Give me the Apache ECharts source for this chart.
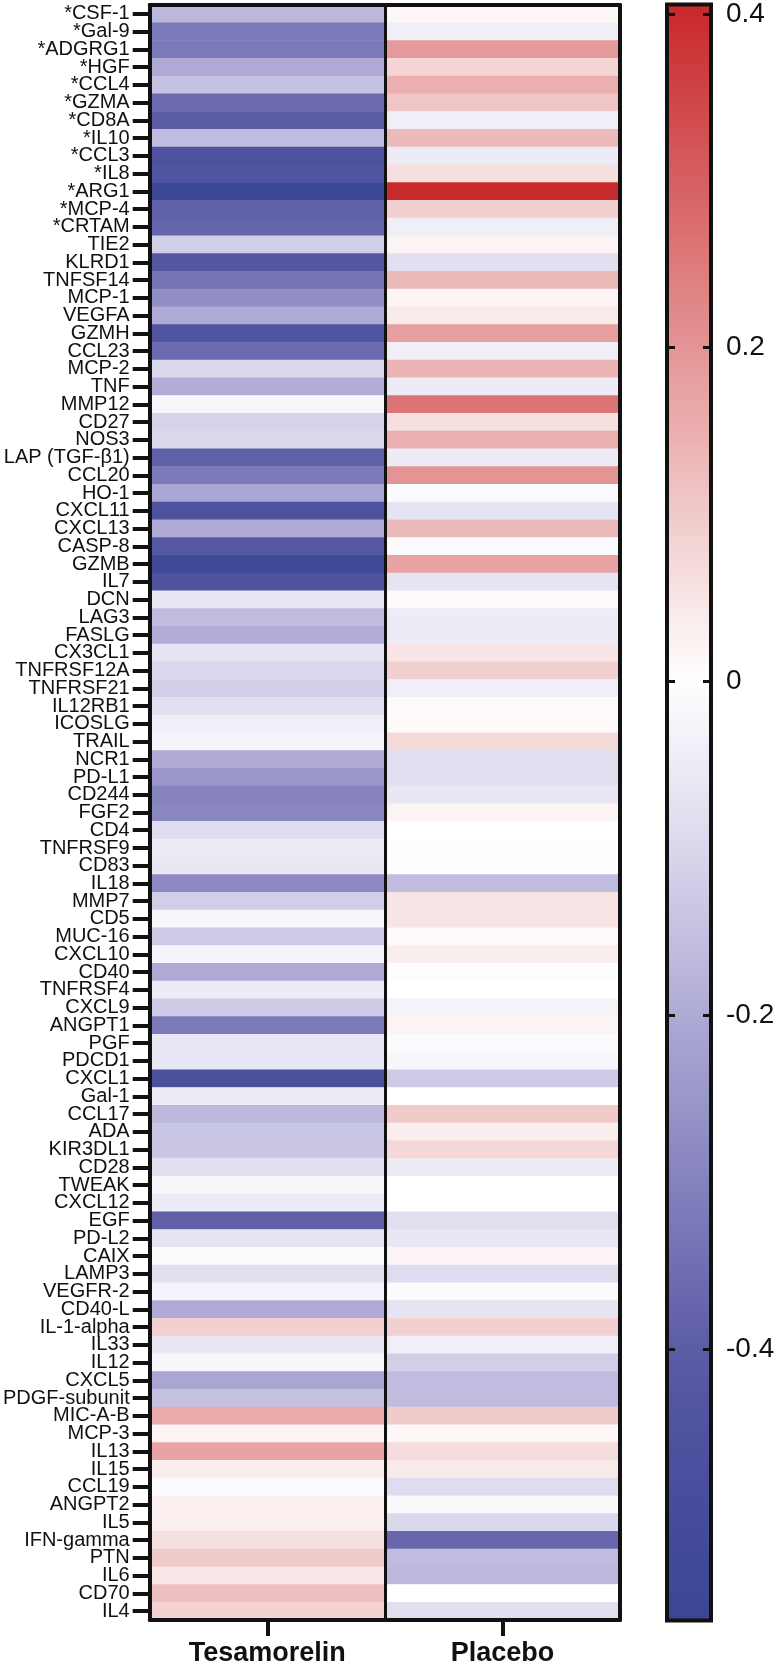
<!DOCTYPE html>
<html><head><meta charset="utf-8">
<script src="https://cdn.jsdelivr.net/npm/echarts@6/dist/echarts.min.js"></script>
<style>html,body{margin:0;padding:0;background:#fff}#c{width:781px;height:1669px}</style>
</head><body><div id="c"></div>
<script>
const categories = ['*CSF-1','*Gal-9','*ADGRG1','*HGF','*CCL4','*GZMA','*CD8A','*IL10','*CCL3','*IL8','*ARG1','*MCP-4','*CRTAM','TIE2','KLRD1','TNFSF14','MCP-1','VEGFA','GZMH','CCL23','MCP-2','TNF','MMP12','CD27','NOS3','LAP (TGF-β1)','CCL20','HO-1','CXCL11','CXCL13','CASP-8','GZMB','IL7','DCN','LAG3','FASLG','CX3CL1','TNFRSF12A','TNFRSF21','IL12RB1','ICOSLG','TRAIL','NCR1','PD-L1','CD244','FGF2','CD4','TNFRSF9','CD83','IL18','MMP7','CD5','MUC-16','CXCL10','CD40','TNFRSF4','CXCL9','ANGPT1','PGF','PDCD1','CXCL1','Gal-1','CCL17','ADA','KIR3DL1','CD28','TWEAK','CXCL12','EGF','PD-L2','CAIX','LAMP3','VEGFR-2','CD40-L','IL-1-alpha','IL33','IL12','CXCL5','PDGF-subunit','MIC-A-B','MCP-3','IL13','IL15','CCL19','ANGPT2','IL5','IFN-gamma','PTN','IL6','CD70','IL4'];
const groups = ['Tesamorelin', 'Placebo'];
const tesamorelin = [
 -0.17,-0.32,-0.32,-0.20,-0.15,-0.36,-0.40,-0.16,-0.45,-0.44,
 -0.55,-0.39,-0.38,-0.12,-0.43,-0.34,-0.27,-0.20,-0.44,-0.36,
 -0.10,-0.19,-0.02,-0.11,-0.10,-0.39,-0.32,-0.21,-0.46,-0.20,
 -0.42,-0.54,-0.45,-0.06,-0.16,-0.19,-0.07,-0.10,-0.12,-0.08,
 -0.04,-0.03,-0.20,-0.25,-0.30,-0.29,-0.09,-0.05,-0.06,-0.28,
 -0.12,-0.02,-0.13,-0.03,-0.20,-0.05,-0.13,-0.32,-0.06,-0.06,
 -0.47,-0.05,-0.17,-0.14,-0.14,-0.08,-0.02,-0.05,-0.39,-0.07,
 -0.01,-0.08,-0.03,-0.20,0.09,-0.06,-0.02,-0.21,-0.15,0.16,
 0.02,0.17,0.035,-0.01,0.03,0.03,0.06,0.10,0.045,0.12,0.085];
const placebo = [
 0.015,-0.04,0.19,0.08,0.15,0.11,-0.04,0.13,-0.05,0.06,
 0.40,0.09,-0.04,0.02,-0.08,0.13,0.02,0.04,0.18,-0.04,
 0.14,-0.05,0.26,0.06,0.15,-0.05,0.20,-0.01,-0.07,0.13,
 -0.01,0.17,-0.07,0.01,-0.05,-0.05,0.05,0.09,-0.04,0.01,
 0.01,0.07,-0.08,-0.08,-0.06,0.02,0.0,0.005,0.005,-0.16,
 0.05,0.05,0.01,0.035,0.005,0.0,-0.03,0.02,-0.01,-0.02,
 -0.13,0.0,0.10,0.035,0.075,-0.05,0.0,0.0,-0.08,-0.06,
 0.02,-0.09,-0.01,-0.07,0.09,-0.04,-0.12,-0.16,-0.16,0.10,
 0.015,0.065,0.04,-0.09,-0.015,-0.10,-0.37,-0.16,-0.17,0.0,-0.08];
const scaleMin = -0.563, scaleMax = 0.405;
const colorbarTickMin = -0.4, colorbarTickMax = 0.4, colorbarStep = 0.2;

// colour scale stops (style)
const stops = [[-0.563,'#3A4694'],[-0.45,'#4F529F'],[-0.4,'#5C5CA6'],[-0.3,'#8582BE'],[-0.2,'#AEAAD5'],[-0.1,'#DAD8EC'],[0,'#FFFFFF'],[0.1,'#F1CACA'],[0.2,'#E49495'],[0.3,'#D65F61'],[0.405,'#C8282A']];
function hex2rgb(h){return [parseInt(h.substr(1,2),16),parseInt(h.substr(3,2),16),parseInt(h.substr(5,2),16)];}
function colorAt(v){
  for (let i=0;i<stops.length-1;i++){
    const a=stops[i], b=stops[i+1];
    if (v<=b[0] || i===stops.length-2){
      const t=Math.max(0,Math.min(1,(v-a[0])/(b[0]-a[0])));
      const ca=hex2rgb(a[1]), cb=hex2rgb(b[1]);
      return 'rgb('+ca.map((c,k)=>Math.round(c+(cb[k]-c)*t)).join(',')+')';
    }
  }
}
const N=240, colors=[];
for(let i=0;i<N;i++){colors.push(colorAt(scaleMin+(scaleMax-scaleMin)*i/(N-1)));}

const data=[];
categories.forEach((c,i)=>{data.push([0,i,tesamorelin[i]]);data.push([1,i,placebo[i]]);});

const FF='"Liberation Sans", Arial, sans-serif';
const ink='#111';
const chart=echarts.init(document.getElementById('c'),null,{renderer:'canvas'});
chart.setOption({
  animation:false,
  textStyle:{fontFamily:FF},
  grid:[
    {left:147,top:5,width:473,height:1615},
    {left:667,top:13,width:44,height:1336}
  ],
  xAxis:[
    {gridIndex:0,type:'category',data:groups,position:'bottom',
     axisLine:{show:true,lineStyle:{color:ink,width:4}},
     axisTick:{show:true,alignWithLabel:true,length:16,lineStyle:{color:ink,width:4}},
     axisLabel:{fontSize:27,fontWeight:'bold',color:ink,margin:20,fontFamily:FF},
     splitLine:{show:true,interval:0,lineStyle:{color:ink,width:3}},z:10},
    {gridIndex:0,type:'category',data:groups,position:'top',
     axisLine:{show:true,lineStyle:{color:ink,width:4}},axisTick:{show:false},axisLabel:{show:false},z:10},
    {gridIndex:1,type:'value',show:false,min:0,max:1}
  ],
  yAxis:[
    {gridIndex:0,type:'category',data:categories,inverse:true,
     axisLine:{show:true,lineStyle:{color:ink,width:4}},
     axisTick:{show:true,alignWithLabel:true,interval:0,length:17,lineStyle:{color:ink,width:4}},
     axisLabel:{interval:0,fontSize:20,color:ink,margin:20,fontFamily:FF},z:10},
    {gridIndex:0,type:'category',data:categories,inverse:true,position:'right',
     axisLine:{show:true,lineStyle:{color:ink,width:4}},axisTick:{show:false},axisLabel:{show:false},z:10},
    {gridIndex:1,type:'value',min:colorbarTickMin,max:colorbarTickMax,interval:colorbarStep,position:'left',
     axisLine:{show:false},axisTick:{show:true,inside:true,length:8,lineStyle:{color:ink,width:3}},
     axisLabel:{show:false},splitLine:{show:false},z:10},
    {gridIndex:1,type:'value',min:colorbarTickMin,max:colorbarTickMax,interval:colorbarStep,position:'right',
     axisLine:{show:false},axisTick:{show:true,inside:true,length:8,lineStyle:{color:ink,width:3}},
     axisLabel:{fontSize:28,color:ink,margin:15,fontFamily:FF,
       formatter:function(v){return String(Math.round(v*10)/10);}},
     splitLine:{show:false},z:10}
  ],
  visualMap:{type:'continuous',seriesIndex:0,min:scaleMin,max:scaleMax,calculable:false,hoverLink:false,
    left:667,top:4,itemWidth:44,itemHeight:1617,padding:0,inRange:{color:colors},z:4},
  graphic:[{type:'rect',z:100,shape:{x:667,y:4.5,width:44,height:1616},style:{fill:null,stroke:ink,lineWidth:4}}],
  series:[{type:'heatmap',xAxisIndex:0,yAxisIndex:0,data:data,itemStyle:{borderWidth:0},emphasis:{disabled:true},z:2}]
});
</script></body></html>
